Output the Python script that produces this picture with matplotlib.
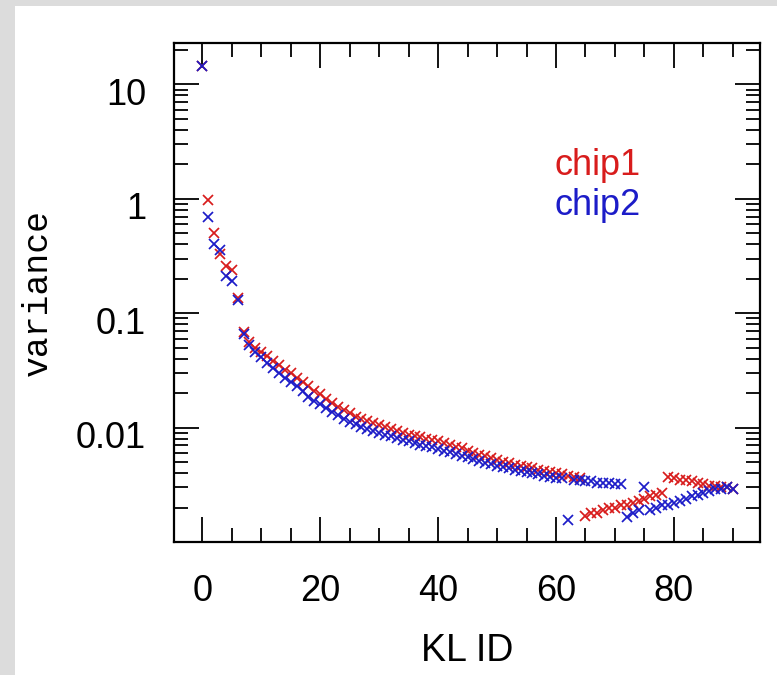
import matplotlib

matplotlib.use("Agg")

import matplotlib.pyplot as plt
import matplotlib.transforms as mtransforms
import numpy as np
from matplotlib.patches import Rectangle
from matplotlib.ticker import FixedLocator, LogLocator, MultipleLocator, NullFormatter


# KL index for both chips
KL_ID = list(range(0, 91))

# variance per KL mode
CHIP1_VARIANCE = [
    14.5, 0.98, 0.50, 0.33, 0.26, 0.24, 0.135, 0.068, 0.056, 0.050,
    0.046, 0.042, 0.038, 0.035, 0.032, 0.030, 0.027, 0.025, 0.023, 0.021,
    0.0195, 0.0178, 0.0165, 0.0152, 0.0142, 0.0133, 0.0125, 0.0119, 0.0114, 0.0109,
    0.0105, 0.0101, 0.0097, 0.0093, 0.0090, 0.0087, 0.0084, 0.0082, 0.0080, 0.0078,
    0.0076, 0.0073, 0.0071, 0.0068, 0.0066, 0.0063, 0.0060, 0.0058, 0.0056, 0.0054,
    0.0052, 0.0050, 0.0049, 0.0047, 0.0046, 0.0045, 0.0044, 0.0043, 0.0042, 0.0041,
    0.0040, 0.0039, 0.0038, 0.0037, 0.0036, 0.0017, 0.0018, 0.0018, 0.0019, 0.0020,
    0.0020, 0.0021, 0.0021, 0.0022, 0.0023, 0.0024, 0.0025, 0.0026, 0.0027, 0.0037,
    0.0036, 0.0035, 0.0035, 0.0034, 0.0033, 0.0032, 0.0031, 0.0031, 0.0030, 0.0030,
    0.0029,
]

CHIP2_VARIANCE = [
    14.5, 0.69, 0.40, 0.36, 0.21, 0.19, 0.13, 0.066, 0.053, 0.046,
    0.041, 0.037, 0.033, 0.030, 0.027, 0.025, 0.023, 0.021, 0.0185, 0.0172,
    0.0160, 0.0148, 0.0138, 0.0128, 0.0120, 0.0113, 0.0107, 0.0102, 0.0098, 0.0094,
    0.0090, 0.0087, 0.0084, 0.0081, 0.0078, 0.0076, 0.0073, 0.0071, 0.0069, 0.0067,
    0.0065, 0.0063, 0.0061, 0.0059, 0.0057, 0.0055, 0.0053, 0.0051, 0.0049, 0.0048,
    0.0046, 0.0045, 0.0044, 0.0043, 0.0042, 0.0041, 0.0040, 0.0039, 0.0038, 0.0037,
    0.0036, 0.0036, 0.00156, 0.0035, 0.0035, 0.0034, 0.0034, 0.0033, 0.0033, 0.0033,
    0.0032, 0.0032, 0.00166, 0.0018, 0.0019, 0.0030, 0.0019, 0.0020, 0.0021, 0.0021,
    0.0022, 0.0023, 0.0024, 0.0025, 0.0026, 0.0027, 0.0028, 0.0029, 0.0029, 0.0030,
    0.0029,
]

Y_TICKS = [0.01, 0.1, 1, 10]
Y_TICK_LABELS = ["0.01", "0.1", "1", "10"]
X_TICKS = [0, 20, 40, 60, 80]

RED = "#d81c1c"
BLUE = "#1c1cc8"
SANS = "Liberation Sans"


def draw_frame(fig) -> None:
    # light grey strip on the left and top edges of the image
    grey = "#dcdcdc"
    fig.patches.append(Rectangle((0, 0), 15 / 777, 1, transform=fig.transFigure,
                                 facecolor=grey, edgecolor="none", zorder=-5))
    fig.patches.append(Rectangle((0, 1 - 6 / 675), 1, 6 / 675, transform=fig.transFigure,
                                 facecolor=grey, edgecolor="none", zorder=-5))


def main() -> None:
    fig = plt.figure(figsize=(7.77, 6.75), dpi=100)
    draw_frame(fig)
    ax = fig.add_axes([174 / 777, 133 / 675, 586 / 777, 499 / 675])

    ax.plot(KL_ID, CHIP1_VARIANCE, linestyle="none", marker="x",
            markersize=7.5, markeredgewidth=1.25, color=RED)
    ax.plot(KL_ID, CHIP2_VARIANCE, linestyle="none", marker="x",
            markersize=7.5, markeredgewidth=1.25, color=BLUE)

    ax.set_yscale("log")
    ax.set_xlim(-4.8, 94.6)
    ax.set_ylim(1e-3, 23)

    ax.xaxis.set_major_locator(FixedLocator(X_TICKS))
    ax.xaxis.set_minor_locator(MultipleLocator(5))
    ax.set_xticklabels([str(t) for t in X_TICKS], fontfamily=SANS, fontsize=26)

    ax.yaxis.set_major_locator(FixedLocator(Y_TICKS))
    ax.yaxis.set_minor_locator(LogLocator(base=10, subs=np.arange(2, 10), numticks=20))
    ax.yaxis.set_minor_formatter(NullFormatter())
    ax.set_yticklabels(Y_TICK_LABELS, fontfamily=SANS, fontsize=26)

    ax.tick_params(which="both", direction="in", top=True, right=True, width=1.3)
    ax.tick_params(which="major", length=18)
    ax.tick_params(which="minor", length=10)
    ax.tick_params(axis="x", which="major", pad=23)
    ax.tick_params(axis="y", which="major", pad=20)

    # y labels sit a little below their ticks in the original
    shift = mtransforms.ScaledTranslation(0, -5 / 72, fig.dpi_scale_trans)
    for label in ax.get_yticklabels():
        label.set_transform(label.get_transform() + shift)

    for spine in ax.spines.values():
        spine.set_linewidth(1.6)

    ax.set_xlabel("KL ID", fontfamily=SANS, fontsize=27, labelpad=17)
    ax.set_ylabel("variance", fontfamily="Liberation Mono", fontsize=25, labelpad=16)

    ax.text(0.65, 0.735, "chip1", transform=ax.transAxes, color=RED,
            fontfamily=SANS, fontsize=26, va="baseline", ha="left")
    ax.text(0.65, 0.655, "chip2", transform=ax.transAxes, color=BLUE,
            fontfamily=SANS, fontsize=26, va="baseline", ha="left")

    fig.savefig("out.png", dpi=100)
    plt.close(fig)


if __name__ == "__main__":
    main()
